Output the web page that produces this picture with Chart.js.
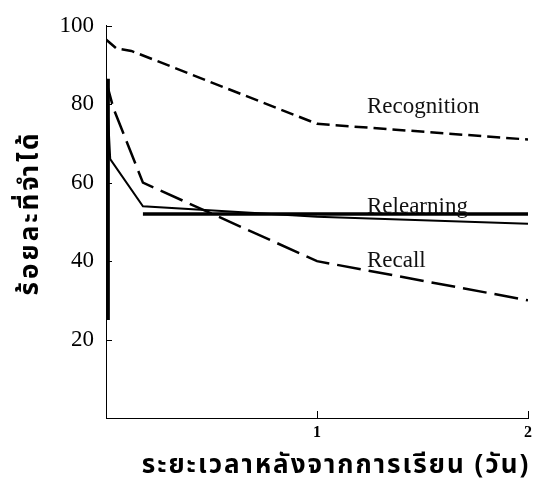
<!DOCTYPE html>
<html><head><meta charset="utf-8">
<script src="https://cdn.jsdelivr.net/npm/chart.js@4/dist/chart.umd.min.js"></script>
<style>html,body{margin:0;padding:0;background:#fff}#wrap{width:540px;height:482px}</style>
</head><body><div id="wrap"><canvas id="c" width="540" height="482"></canvas></div>
<script>
// Data (days after learning, percent retained)
const recognitionX = [0, 0.05, 0.12, 1, 2];
const recognitionY = [96.5, 94.2, 93.6, 75, 71];
const recallX = [0, 0.035, 0.175, 1, 2];
const recallY = [86, 79, 60, 40, 30];
const relearningX = [0, 0.02, 0.175, 1, 2];
const relearningY = [87, 66, 54, 51.3, 49.5];
const savingsLineX = [0.175, 2];
const savingsLineY = [52, 52];
const initialBarX = [0.01, 0.01];
const initialBarY = [86.5, 25];
const yTicks = [20, 40, 60, 80, 100];
const xTicks = [1, 2];
const seriesLabels = ['Recognition', 'Relearning', 'Recall'];
const seriesLabelX = [1.237, 1.237, 1.237];
const seriesLabelY = [79.4, 53.8, 40.1];
const yTitle = 'ร้อยละที่จำได้';
const xTitle = 'ระยะเวลาหลังจากการเรียน (วัน)';

const pts = (xs, ys) => xs.map((x, i) => ({x, y: ys[i]}));
const THAI = '"Noto Sans Thai","Noto Sans Thai UI","Loma","Garuda","Noto Sans",sans-serif';

const annot = {
  id: 'annot',
  afterDraw(chart) {
    const {ctx, scales: {x, y}} = chart;
    ctx.save();
    ctx.strokeStyle = '#000';
    ctx.lineWidth = 1;
    // inside ticks
    yTicks.forEach(v => {
      const py = Math.round(y.getPixelForValue(v)) + 0.5;
      ctx.beginPath(); ctx.moveTo(x.left, py); ctx.lineTo(x.left + 6, py); ctx.stroke();
    });
    xTicks.forEach(v => {
      const px = Math.round(x.getPixelForValue(v)) + 0.5;
      ctx.beginPath(); ctx.moveTo(px, y.bottom); ctx.lineTo(px, y.bottom - 7); ctx.stroke();
    });
    // series labels
    ctx.fillStyle = '#111';
    ctx.font = '23px "Liberation Serif", serif';
    ctx.textAlign = 'left';
    ctx.textBaseline = 'middle';
    seriesLabels.forEach((t, i) => {
      ctx.fillText(t, x.getPixelForValue(seriesLabelX[i]), y.getPixelForValue(seriesLabelY[i]));
    });
    // axis titles
    ctx.fillStyle = '#000';
    ctx.font = 'bold 26px ' + THAI;
    ctx.letterSpacing = '2px';
    ctx.textAlign = 'center';
    ctx.textBaseline = 'middle';
    ctx.fillText(xTitle, 336, 468);
    ctx.translate(33, 213);
    ctx.rotate(-Math.PI / 2);
    ctx.letterSpacing = '3px';
    ctx.fillText(yTitle, 0, 0);
    ctx.restore();
  }
};

new Chart(document.getElementById('c'), {
  type: 'line',
  data: {
    datasets: [
      {label: 'Recognition', data: pts(recognitionX, recognitionY), borderColor: '#000', borderWidth: 2.5, borderDash: [13, 6], pointRadius: 0, tension: 0, fill: false},
      {label: 'Recall', data: pts(recallX, recallY), borderColor: '#000', borderWidth: 2.5, borderDash: [24, 8], pointRadius: 0, tension: 0, fill: false},
      {label: 'Relearning', data: pts(relearningX, relearningY), borderColor: '#000', borderWidth: 2, pointRadius: 0, tension: 0, fill: false},
      {label: 'Relearning level', data: pts(savingsLineX, savingsLineY), borderColor: '#000', borderWidth: 3.5, pointRadius: 0, fill: false},
      {label: 'Initial', data: pts(initialBarX, initialBarY), borderColor: '#000', borderWidth: 3.5, pointRadius: 0, fill: false}
    ]
  },
  options: {
    responsive: false,
    animation: false,
    layout: {padding: {left: 0, right: 12, top: 24, bottom: 0}},
    plugins: {legend: {display: false}, tooltip: {enabled: false}},
    scales: {
      x: {
        type: 'linear', min: 0, max: 2,
        grid: {display: false, drawTicks: false},
        border: {display: true, color: '#000', width: 1},
        afterFit(s) { s.height = 64; },
        afterBuildTicks(s) { s.ticks = xTicks.map(v => ({value: v})); },
        ticks: {color: '#000', padding: 5, font: {family: '"Liberation Serif", serif', size: 16, weight: 'bold'}}
      },
      y: {
        type: 'linear', min: 0, max: 100,
        grid: {display: false, drawTicks: false},
        border: {display: true, color: '#000', width: 1},
        afterFit(s) { s.width = 106; },
        afterBuildTicks(s) { s.ticks = yTicks.map(v => ({value: v})); },
        ticks: {color: '#000', padding: 12, font: {family: '"Liberation Serif", serif', size: 23}}
      }
    }
  },
  plugins: [annot]
});
</script>
</body></html>
